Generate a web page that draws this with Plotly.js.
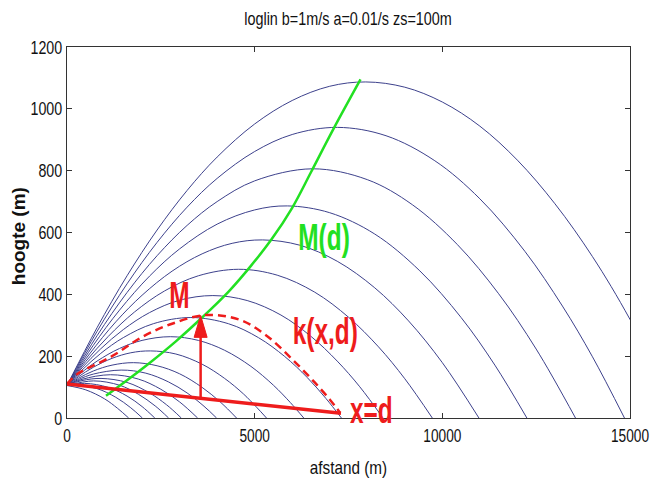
<!DOCTYPE html>
<html>
<head>
<meta charset="utf-8">
<script src="https://cdn.plot.ly/plotly-3.0.1.min.js"></script>
<style>html,body{margin:0;padding:0;background:#fff;}#plot{width:653px;height:481px;}</style>
</head>
<body>
<div id="plot"></div>
<script>
// ---- data ----
const xTicks = [0, 5000, 10000, 15000];
const yTicks = [0, 200, 400, 600, 800, 1000, 1200];

// blue ray arcs (afstand, hoogte)
const arcX = [
  [0,800,1600,2400,3200,4000,5000,6000,7000,7960,9000,10000,11000,12000,13000,14000,15000,16334],
  [0,800,1600,2400,3200,4000,5000,6000,7207,8500,9800,11000,12200,13200,14000,14853],
  [0,800,1600,2400,3200,4000,5000,6538,8000,9200,10400,11500,12500,13548],
  [0,700,1400,2200,3000,4000,5000,5871,7000,8200,9400,10500,11400,12252],
  [0,600,1300,2000,2800,3600,4400,5212,6200,7200,8200,9100,10000,10975],
  [0,500,1100,1800,2600,3500,4568,5600,6600,7500,8300,9000,9733],
  [0,400,900,1500,2200,3000,3886,4800,5700,6500,7200,7800,8420],
  [0,400,900,1500,2300,3300,4300,5100,5800,6400,6900,7311],
  [0,350,800,1400,2000,2754,3500,4200,4900,5500,5950,6308],
  [0,300,700,1200,1700,2222,2900,3600,4200,4700,5050,5315],
  [0,300,700,1200,1768,2400,3000,3600,4100,4517],
  [0,300,700,1443,2100,2700,3200,3650,3985],
  [0,400,1160,1900,2500,3000,3480],
  [0,400,907,1600,2200,2650,3045],
  [0,707,1400,1900,2350,2707],
  [0,468,1100,1600,2000,2339],
  [0,212,800,1300,1700,2008],
  [0,500,1000,1350,1643]
];
const arcY = [
  [105,292,460,608,736,844,951,1027,1073,1087,1070,1022,944,834,693,522,319,0],
  [105,280,434,568,682,775,862,917,940,913,832,709,539,362,198,0],
  [105,266,406,525,623,700,767,806,771,690,561,402,223,0],
  [105,235,349,459,547,627,673,686,664,595,476,325,171,0],
  [105,207,311,397,475,531,565,576,559,507,421,314,179,0],
  [105,183,264,343,411,460,481,462,407,326,230,127,0],
  [105,162,224,286,341,381,396,380,333,264,184,101,0],
  [105,155,209,260,305,325,305,260,199,131,63,0],
  [105,143,184,225,251,263,251,219,167,106,50,0],
  [105,133,164,193,211,217,207,174,128,78,35,0],
  [105,128,152,171,179,169,143,99,50,0],
  [105,124,142,155,145,117,81,38,0],
  [105,125,140,126,93,52,0],
  [105,121,128,115,81,43,0],
  [105,120,106,77,39,0],
  [105,112,99,71,37,0],
  [105,106,95,67,33,0],
  [105,91,62,31,0]
];

// green curve M(d)
const mdX = [1040,1600,2200,2900,3600,4300,4900,5450,6000,6500,7100,7820];
const mdY = [72,122,178,248,325,408,492,578,680,795,935,1095];

// red dashed curve k(x,d)
const kX = [0,250,1200,2000,2800,3700,4600,5300,6000,6600,7000,7270];
const kY = [110,140,200,262,305,333,318,268,190,115,60,18];

// red straight line from source to x=d
const lineX = [0, 7300];
const lineY = [110, 15];

// red arrow (base on the line, tip at the maximum M)
const arrowX = 3560;
const arrowY = [64, 332];

// text labels
const labelText = ['M', 'k(x,d)', 'x=d', 'M(d)'];
const labelX = [3010, 6900, 8120, 6840];
const labelY = [395, 280, 23, 585];
const labelColor = ['#ee1c1c', '#ee1c1c', '#ee1c1c', '#22e022'];

// ---- build ----
const FONT = '"Liberation Sans", Arial, sans-serif';
const traces = [];
for (let i = 0; i < arcX.length; i++) {
  traces.push({x: arcX[i], y: arcY[i], mode: 'lines', type: 'scatter',
    line: {color: '#3d418c', width: 1, shape: 'spline', smoothing: 1}, hoverinfo: 'skip', showlegend: false});
}
traces.push({x: mdX, y: mdY, mode: 'lines', line: {color: '#22e022', width: 2.5, shape: 'spline'}, showlegend: false});
traces.push({x: kX, y: kY, mode: 'lines', line: {color: '#ee1c1c', width: 2.5, dash: '8px,5px', shape: 'spline'}, showlegend: false});
traces.push({x: lineX, y: lineY, mode: 'lines', line: {color: '#ee1c1c', width: 3.5}, showlegend: false});

// arrow: shaft + filled head, head size given in pixels
const plotW = 563, plotH = 371;
const dX = 15000 / plotW, dY = 1200 / plotH;
const headLen = 22, headHalf = 6.5;
traces.push({x: [arrowX, arrowX], y: [arrowY[0], arrowY[1] - (headLen - 2) * dY], mode: 'lines',
  line: {color: '#ee1c1c', width: 2.5}, showlegend: false});
traces.push({x: [arrowX - headHalf * dX, arrowX + headHalf * dX, arrowX, arrowX - headHalf * dX],
  y: [arrowY[1] - headLen * dY, arrowY[1] - headLen * dY, arrowY[1], arrowY[1] - headLen * dY],
  mode: 'lines', fill: 'toself', fillcolor: '#ee1c1c', line: {color: '#ee1c1c', width: 1}, showlegend: false});

const annotations = labelText.map((t, i) => ({
  text: t, x: labelX[i], y: labelY[i], xref: 'x', yref: 'y', showarrow: false,
  font: {family: FONT, size: 37, color: labelColor[i], weight: 'bold'}
}));
// y-axis title placed as a rotated annotation
annotations.push({text: 'hoogte (m)', xref: 'paper', yref: 'paper', x: -0.087, y: 0.49,
  xanchor: 'center', yanchor: 'middle', textangle: -90, showarrow: false,
  font: {family: FONT, size: 19, color: '#111', weight: 'bold'}});

const axisCommon = {
  showgrid: false, zeroline: false, showline: true, linecolor: '#333', linewidth: 1,
  mirror: 'ticks', ticks: 'inside', ticklen: 5, tickcolor: '#333',
  tickfont: {family: FONT, size: 19, color: '#111'}, ticklabeloverflow: 'allow'
};

const layout = {
  width: 653, height: 481,
  margin: {l: 67, r: 23, t: 47, b: 63},
  paper_bgcolor: '#fff', plot_bgcolor: '#fff',
  title: {text: 'loglin b=1m/s a=0.01/s zs=100m', font: {family: FONT, size: 18, color: '#111'},
    x: 0.533, xanchor: 'center', y: 0.962, yanchor: 'middle'},
  xaxis: Object.assign({}, axisCommon, {range: [0, 15000], tickvals: xTicks, ticktext: xTicks.map(String),
    title: {text: 'afstand (m)', font: {family: FONT, size: 18, color: '#111'}, standoff: 16}}),
  yaxis: Object.assign({}, axisCommon, {range: [0, 1200], tickvals: yTicks, ticktext: yTicks.map(String)}),
  annotations: annotations,
  showlegend: false
};

// squeeze text horizontally (the reference lettering is tall and narrow)
function squeeze(nodes, sx) {
  nodes.forEach(t => {
    const b = t.getBBox();
    const anchor = t.getAttribute('text-anchor') || 'middle';
    let cx = b.x + b.width / 2;
    if (anchor === 'end') cx = b.x + b.width;
    if (anchor === 'start') cx = b.x;
    const cy = b.y + b.height / 2;
    const prev = t.getAttribute('transform') || '';
    t.setAttribute('transform', prev + ' translate(' + cx + ',' + cy + ') scale(' + sx + ',1) translate(' + (-cx) + ',' + (-cy) + ')');
  });
}

Plotly.newPlot('plot', traces, layout, {staticPlot: true, displayModeBar: false}).then(() => {
  const q = s => Array.from(document.querySelectorAll(s));
  squeeze(q('.xtick text'), 0.72);
  squeeze(q('.ytick text'), 0.75);
  squeeze(q('.gtitle'), 0.8);
  squeeze(q('.g-xtitle text'), 0.85);
  const ann = q('.annotation-text');
  squeeze(ann.filter(t => labelText.indexOf(t.textContent) >= 0), 0.66);
});
</script>
</body>
</html>
